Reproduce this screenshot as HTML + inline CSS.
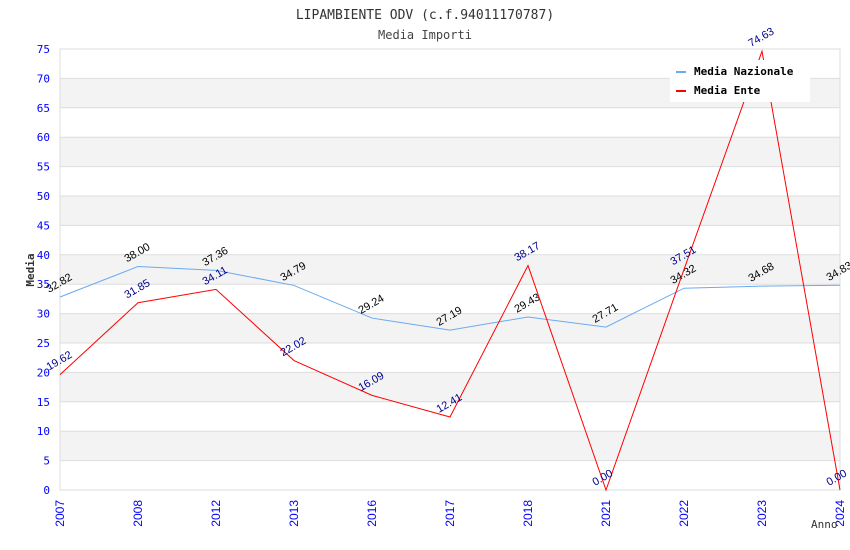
<!DOCTYPE html>
<html><head><meta charset="utf-8"><style>
body{margin:0;background:#fff}
svg{display:block;font-family:"DejaVu Sans Mono","Liberation Mono",monospace}
</style></head><body>
<svg id="c" width="850" height="550">
<text x="425" y="19" text-anchor="middle" font-size="13" fill="#333">LIPAMBIENTE ODV (c.f.94011170787)</text>
<text x="425" y="39" text-anchor="middle" font-size="12" fill="#444">Media Importi</text>
<g id="grid"></g>
<g id="axes"></g>
<g id="series"></g>
<text x="34" y="270" transform="rotate(-90 34 270)" text-anchor="middle" font-size="11" font-weight="bold" fill="#333">Media</text>
<text x="811" y="528" font-size="11" fill="#333">Anno</text>
<g>
<rect x="670" y="60" width="140" height="42" fill="#fff"/>
<rect x="676" y="71" width="10" height="2" fill="#6aaaf0"/>
<text x="694" y="75" font-size="11" font-weight="bold" fill="#000">Media Nazionale</text>
<rect x="676" y="90" width="10" height="2" fill="#f00"/>
<text x="694" y="94" font-size="11" font-weight="bold" fill="#000">Media Ente</text>
</g>
</svg>
<script>
const categories=["2007","2008","2012","2013","2016","2017","2018","2021","2022","2023","2024"];
const nazionale=[32.82,38.00,37.36,34.79,29.24,27.19,29.43,27.71,34.32,34.68,34.83];
const ente=[19.62,31.85,34.11,22.02,16.09,12.41,38.17,0.00,37.51,74.63,0.00];
const yTicks=[0,5,10,15,20,25,30,35,40,45,50,55,60,65,70,75];
const NS="http://www.w3.org/2000/svg";
const X0=60,X1=840,Y0=490,Y1=49,YMAX=75;
const xs=i=>X0+i*(X1-X0)/(categories.length-1);
const ys=v=>Y0-v*(Y0-Y1)/YMAX;
function mk(t,a,p){const e=document.createElementNS(NS,t);for(const k in a)e.setAttribute(k,a[k]);p.appendChild(e);return e;}
const grid=document.getElementById('grid'),axes=document.getElementById('axes'),ser=document.getElementById('series');
for(let k=5;k<YMAX;k+=10){const r=mk('rect',{x:X0,y:ys(k+5),width:X1-X0,height:ys(k)-ys(k+5),fill:'#f3f3f3'},grid);

}
yTicks.forEach(v=>{const l=mk('line',{x1:X0,x2:X1,y1:ys(v),y2:ys(v),stroke:'#ddd'},grid);


const t=mk('text',{x:X0-10,y:ys(v)+4,'text-anchor':'end','font-size':11,fill:'#00f'},axes);t.textContent=v;

});
const fr=mk('rect',{x:X0,y:Y1,width:X1-X0,height:Y0-Y1,fill:'none',stroke:'#ddd'},grid);


categories.forEach((c,i)=>{const x=xs(i)+4;const t=mk('text',{x:x,y:500,transform:`rotate(-90 ${x} 500)`,'text-anchor':'end','font-size':12,fill:'#00f','font-family':'Liberation Sans, sans-serif'},axes);t.textContent=c;

});
function line(data,color,lblColor,name){
const p=mk('polyline',{points:data.map((v,i)=>xs(i)+','+ys(v)).join(' '),fill:'none',stroke:color,'stroke-width':1},ser);


data.forEach((v,i)=>{const x=xs(i)-11,y=ys(v)-4;const t=mk('text',{x:x,y:y,transform:`rotate(-30 ${x} ${y})`,'font-size':11,fill:lblColor,'font-family':'Liberation Sans, sans-serif'},ser);t.textContent=v.toFixed(2);

});}
line(nazionale,'#6aaaf0','#000','nazionale');
line(ente,'#f00','#00008b','ente');
</script>
</body></html>
